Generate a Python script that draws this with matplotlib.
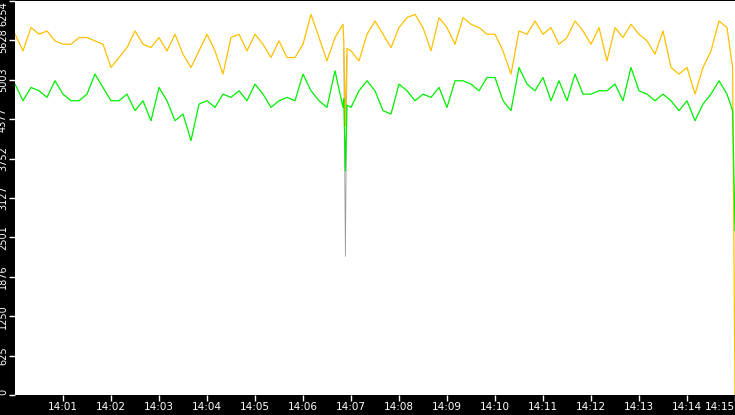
import matplotlib
matplotlib.use("Agg")
import matplotlib.pyplot as plt

# seconds after 14:00:00
seconds = list(range(0, 900, 10)) + [897, 900]

yellow = [5726, 5462, 5832, 5726, 5779, 5621, 5568, 5568, 5674, 5674, 5621, 5568, 5199, 5357, 5515,
          5779, 5568, 5515, 5674, 5462, 5726, 5410, 5199, 5462, 5726, 5462, 5093, 5674, 5726, 5462,
          5726, 5568, 5357, 5621, 5357, 5357, 5568, 6043, 5674, 5304, 5674, 5885, 5462, 5304, 5726,
          5937, 5726, 5515, 5832, 5990, 6043, 5832, 5462, 5990, 5832, 5568, 5990, 5885, 5832, 5726,
          5726, 5462, 5093, 5779, 5726, 5937, 5726, 5832, 5568, 5674, 5937, 5779, 5568, 5832, 5304,
          5832, 5674, 5885, 5726, 5621, 5410, 5779, 5199, 5093, 5199, 4776, 5199, 5462, 5937, 5832,
          5199, 0]

green = [4935, 4671, 4882, 4829, 4724, 4988, 4776, 4671, 4671, 4776, 5093, 4882, 4671, 4671, 4776,
         4513, 4671, 4354, 4882, 4671, 4354, 4460, 4038, 4618, 4671, 4565, 4776, 4724, 4829, 4671,
         4935, 4776, 4565, 4671, 4724, 4671, 5093, 4829, 4671, 4565, 5146, 4565, 4565, 4829, 4988,
         4829, 4513, 4460, 4935, 4829, 4671, 4776, 4724, 4882, 4565, 4988, 4988, 4935, 4829, 5040,
         5040, 4671, 4513, 5199, 4935, 4829, 5040, 4671, 4988, 4671, 5093, 4776, 4776, 4829, 4829,
         4935, 4671, 5199, 4829, 4776, 4671, 4776, 4671, 4513, 4671, 4354, 4618, 4776, 4988, 4776,
         4513, 2610]

# dip near 14:06:53
dip_sec = [411, 413, 415]
dip_yellow = [5600, 4275, 5500]
dip_green = [4700, 3560, 4600]
dip_gray = [5500, 2200, 5400]

yticks = [0, 625, 1250, 1876, 2501, 3127, 3752, 4377, 5003, 5628, 6254]
xticks = list(range(60, 901, 60))
xlabels = ["14:%02d" % m for m in range(1, 16)]


def merge(xs, ys, dx, dy):
    pts = sorted(list(zip(xs, ys)) + list(zip(dx, dy)))
    return [p[0] for p in pts], [p[1] for p in pts]


fig = plt.figure(figsize=(7.35, 4.15), dpi=100, facecolor="black")
ax = fig.add_axes([15 / 735, 20 / 415, 720 / 735, 394 / 415])
ax.set_facecolor("white")

ax.plot(dip_sec, dip_gray, color="#999999", lw=0.6)
x, y = merge(seconds, yellow, dip_sec, dip_yellow)
ax.plot(x, y, color="#FFC000", lw=0.9)
x, y = merge(seconds, green, dip_sec, dip_green)
ax.plot(x, y, color="#00EE00", lw=0.9)

ax.set_xlim(0, 900)
ax.set_ylim(0, 6254)
for s in ax.spines.values():
    s.set_visible(False)

ax.set_yticks(yticks)
ax.set_yticklabels([str(v) for v in yticks], rotation=90, color="white", fontsize=7)
for lab in ax.get_yticklabels():
    lab.set_va("center")
ax.get_yticklabels()[-1].set_va("top")
ax.get_yticklabels()[0].set_va("bottom")
ax.set_xticks(xticks)
ax.set_xticklabels(xlabels, color="white", fontsize=7.5)
ax.get_xticklabels()[-1].set_ha("right")
ax.get_xticklabels()[-1].set_text("14")
ax.tick_params(axis="both", colors="white", length=4, width=1, pad=1)

fig.savefig("out.png", dpi=100, facecolor="black")
